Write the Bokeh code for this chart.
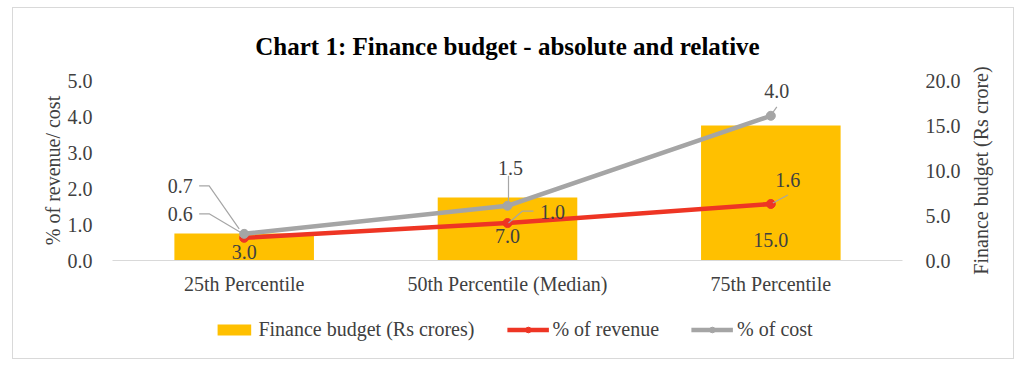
import math
from bokeh.plotting import figure
from bokeh.layouts import column, row
from bokeh.models import (Range1d, LinearAxis, FixedTicker, NumeralTickFormatter,
                          Legend, LegendItem)
from bokeh.embed import file_html
from bokeh.resources import INLINE
from bokeh.core.properties import value

# ---------------- data ----------------
categories = ["25th Percentile", "50th Percentile (Median)", "75th Percentile"]
finance_budget = [3.0, 7.0, 15.0]          # Rs crores (right axis)
pct_revenue = [0.63, 1.04, 1.57]           # % of revenue (left axis)
pct_cost = [0.74, 1.52, 4.02]              # % of cost (left axis)
left_ticks = [0, 1, 2, 3, 4, 5]
right_ticks = [0, 5, 10, 15, 20]
series_names = ["Finance budget (Rs crores)", "% of revenue", "% of cost"]

# ---------------- style ----------------
FONT = "Liberation Serif"
TXT = "#404040"
YELLOW = "#FFC000"
RED = "#EE3524"
GRAY = "#A5A5A5"
LEADER = "#A6A6A6"

FRAME_W, FRAME_H = 790, 180
ML, MR, MT, MB = 99, 60, 72, 52
P_W = ML + FRAME_W + MR
P_H = MT + FRAME_H + MB
SIDE_W = 50
TOTAL_W = P_W + SIDE_W
PX_X = FRAME_W / 3.0
PX_Y = FRAME_H / 5.0
PX_YR = FRAME_H / 20.0

# label nudges in screen px (dx right, dy down) relative to the point
cost_lab = [(-64, -48), (3, -38), (6, -25)]
cost_lead = [[(-45, -48), (-35, -48), (-5, -5)], [(1, -30), (1, -5)], [(1, -2), (6, -9)]]
rev_lab = [(-64, -24), (45, -11), (17, -24)]
rev_lead = [[(-45, -24), (-35, -24), (-3, -5)], [(1, 0), (15, -12), (26, -12)], [(2, -1), (17, -9)]]
bar_lab_dy = [-9, -25, -21]

xs = list(range(len(categories)))

p = figure(frame_width=FRAME_W, frame_height=FRAME_H,
           x_range=Range1d(-0.5, 2.5), y_range=Range1d(0, 5),
           output_backend="svg", toolbar_location=None,
           min_border_left=ML, min_border_right=MR, min_border_top=MT, min_border_bottom=MB)
p.extra_y_ranges = {"right": Range1d(0, 20)}
p.xgrid.visible = False
p.ygrid.visible = False
p.outline_line_color = None
p.background_fill_color = "white"
p.border_fill_color = "white"

p.title.text = "Chart 1: Finance budget - absolute and relative"
p.title.align = "center"
p.title.text_font = FONT
p.title.text_font_size = "25px"
p.title.text_font_style = "bold"
p.title.text_color = "#000000"
p.title.standoff = 41

# axes
xa = p.xaxis[0]
xa.ticker = FixedTicker(ticks=xs)
xa.major_label_overrides = {i: c for i, c in zip(xs, categories)}
xa.axis_line_color = "#D9D9D9"
xa.major_tick_line_color = None
xa.minor_tick_line_color = None
xa.major_label_standoff = 6
xa.major_label_text_font = FONT
xa.major_label_text_font_size = "20px"
xa.major_label_text_color = TXT

ya = p.yaxis[0]
ya.ticker = FixedTicker(ticks=left_ticks)
ya.formatter = NumeralTickFormatter(format="0.0")
ya.axis_label = "% of revenue/ cost"
ra = LinearAxis(y_range_name="right", ticker=FixedTicker(ticks=right_ticks),
                formatter=NumeralTickFormatter(format="0.0"))
p.add_layout(ra, "right")
for ax in (ya, ra):
    ax.axis_line_color = None
    ax.major_tick_line_color = None
    ax.minor_tick_line_color = None
    ax.major_label_text_font = FONT
    ax.major_label_text_font_size = "20px"
    ax.major_label_text_color = TXT
ya.major_label_standoff = 14
ra.major_label_standoff = 17
ya.axis_label_text_font = FONT
ya.axis_label_text_font_size = "20px"
ya.axis_label_text_font_style = "normal"
ya.axis_label_text_color = TXT
ya.axis_label_standoff = 1

# bars
bars = p.vbar(x=xs, top=finance_budget, width=0.53, y_range_name="right",
              fill_color=YELLOW, line_color=None)
p.text(x=xs, y=[0 - dy / PX_YR for dy in bar_lab_dy],
       text=[f"{v:.1f}" for v in finance_budget], y_range_name="right",
       text_align="center", text_baseline="middle", text_font=value(FONT),
       text_font_size="20px", text_color=TXT)

# lines
p.line(xs, pct_revenue, line_color=RED, line_width=4.5)
p.scatter(xs, pct_revenue, size=9, fill_color=RED, line_color=RED)
p.line(xs, pct_cost, line_color=GRAY, line_width=4.5)
p.scatter(xs, pct_cost, size=9, fill_color=GRAY, line_color=GRAY)


def add_labels(vals, labs, leads):
    lx, ly, mx, my = [], [], [], []
    for i, v in enumerate(vals):
        dx, dy = labs[i]
        lx.append(i + dx / PX_X)
        ly.append(v - dy / PX_Y)
        mx.append([i + a / PX_X for a, b in leads[i]])
        my.append([v - b / PX_Y for a, b in leads[i]])
    p.multi_line(mx, my, line_color=LEADER, line_width=1.2)
    p.text(x=lx, y=ly, text=[f"{v:.1f}" for v in vals], text_align="center",
           text_baseline="middle", text_font=value(FONT), text_font_size="20px",
           text_color=TXT)


add_labels(pct_cost, cost_lab, cost_lead)
add_labels(pct_revenue, rev_lab, rev_lead)

# right axis title: a left-side title of a narrow canvas, so it reads bottom-to-top
p3 = figure(width=SIDE_W, height=P_H, x_range=Range1d(0, 1), y_range=Range1d(0, 1),
            output_backend="svg", toolbar_location=None, min_border=0,
            min_border_top=MT, min_border_bottom=MB,
            x_axis_type=None, y_axis_type=None,
            title="Finance budget (Rs crore)", title_location="left")
p3.xgrid.visible = False
p3.ygrid.visible = False
p3.outline_line_color = None
p3.title.align = "center"
p3.title.text_font = FONT
p3.title.text_font_size = "20px"
p3.title.text_font_style = "normal"
p3.title.text_color = TXT
p3.title.standoff = 8

# legend strip
p2 = figure(width=TOTAL_W, height=46, x_range=Range1d(0, 1), y_range=Range1d(0, 1),
            output_backend="svg", toolbar_location=None, min_border=0,
            min_border_bottom=12, x_axis_type=None, y_axis_type=None)
p2.xgrid.visible = False
p2.ygrid.visible = False
p2.outline_line_color = None
# legend proxies drawn outside the visible range
lb = p2.vbar(x=[5], top=[5], width=0.5, fill_color=YELLOW, line_color=None)
lr = p2.line([5, 6], [5, 6], line_color=RED, line_width=4.5)
lrc = p2.scatter([5], [5], size=9, fill_color=RED, line_color=RED)
lg = p2.line([5, 6], [5, 6], line_color=GRAY, line_width=4.5)
lgc = p2.scatter([5], [5], size=9, fill_color=GRAY, line_color=GRAY)
legend = Legend(items=[
    LegendItem(label=series_names[0], renderers=[lb]),
    LegendItem(label=series_names[1], renderers=[lr, lrc]),
    LegendItem(label=series_names[2], renderers=[lg, lgc]),
], orientation="horizontal", location="center")
legend.label_text_font = FONT
legend.label_text_font_size = "20px"
legend.label_text_color = TXT
legend.glyph_width = 42
legend.glyph_height = 14
legend.label_standoff = 4
legend.spacing = 32
legend.padding = 4
legend.margin = 0
legend.border_line_color = None
legend.background_fill_alpha = 0
p2.add_layout(legend, "center")

layout = column(row(p, p3), p2)
layout.margin = (7, 0, 0, 12)
layout.styles = {"border": "1px solid #D9D9D9"}

open("out.html", "w").write(file_html(layout, INLINE))
